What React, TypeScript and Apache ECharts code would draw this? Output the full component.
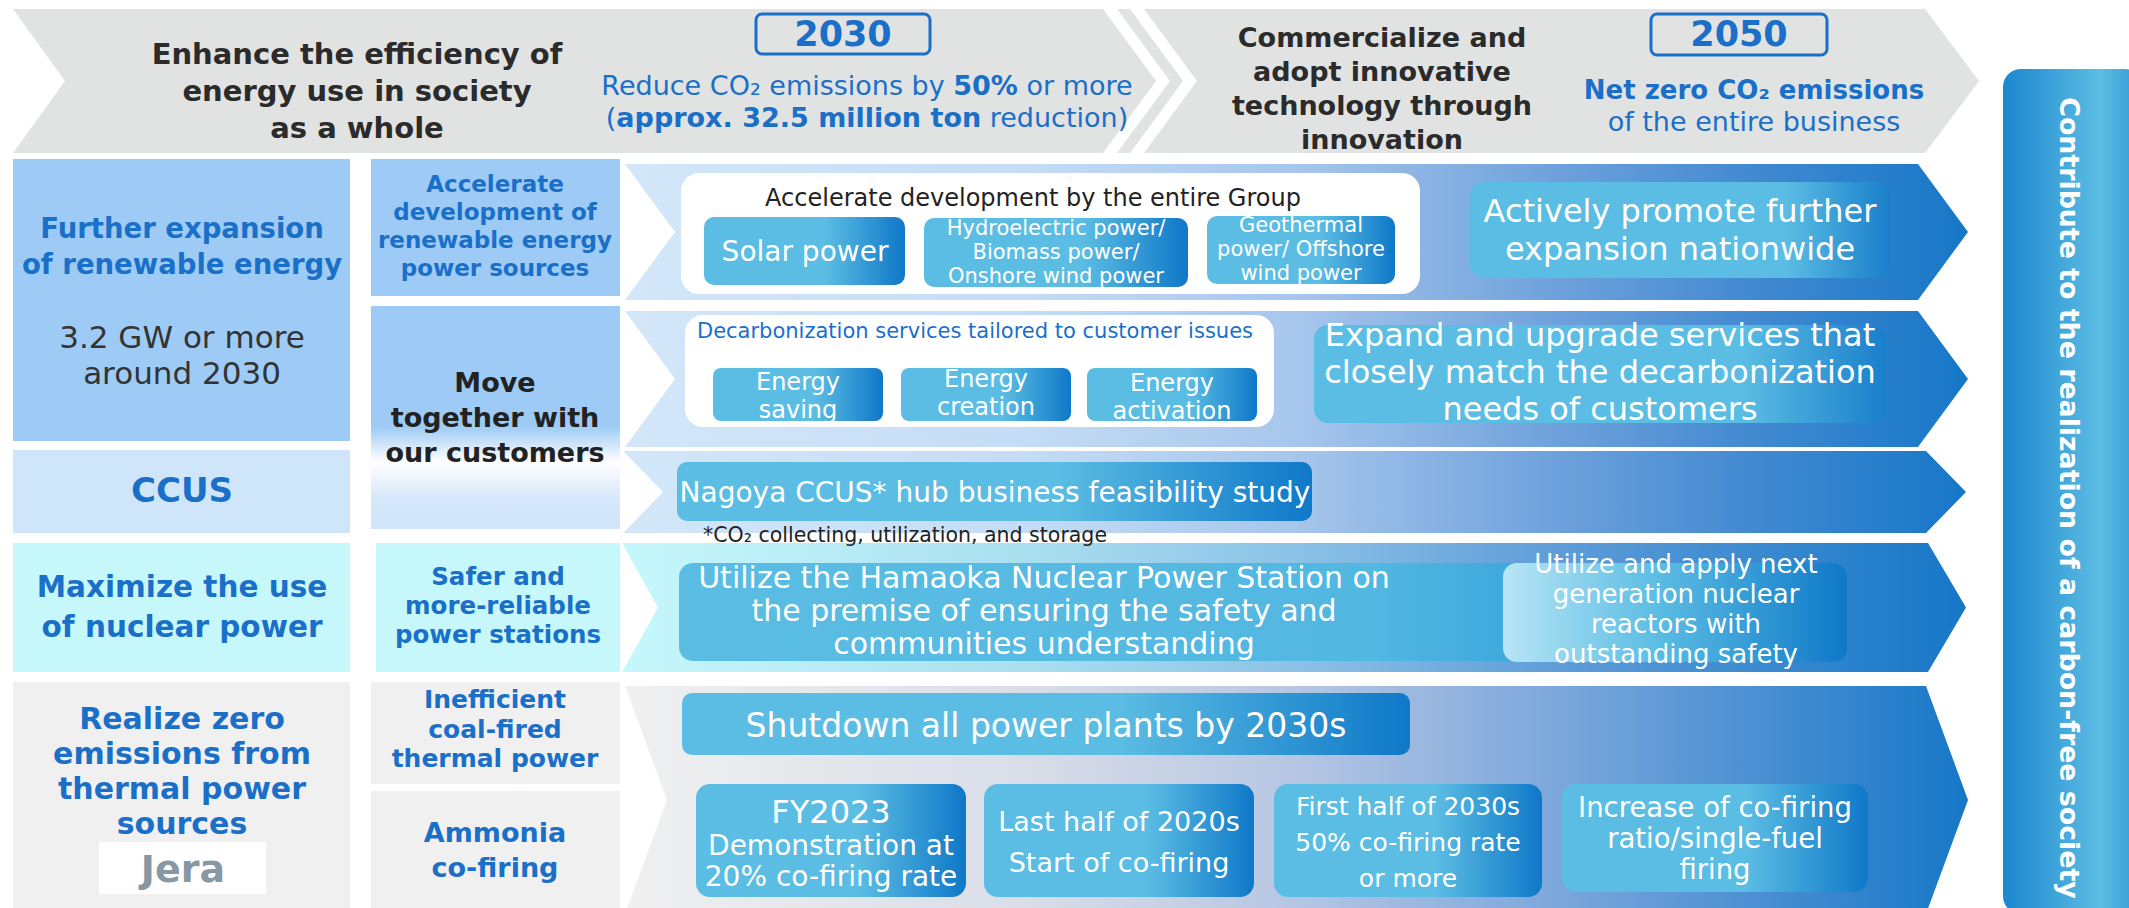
import React, { useEffect, useRef } from "react";
import * as echarts from "echarts";

const FONT = '"DejaVu Sans", Verdana, sans-serif';

// ---- texts (content) ----
const bannerLeftLines = ["Enhance the efficiency of", "energy use in society", "as a whole"];
const year2030 = "2030";
const target2030 = [
  [["n", "Reduce CO₂ emissions by "], ["b", "50%"], ["n", " or more"]],
  [["n", "("], ["b", "approx. 32.5 million ton"], ["n", " reduction)"]],
];
const bannerRightLines = ["Commercialize and", "adopt innovative", "technology through", "innovation"];
const year2050 = "2050";
const target2050Lines = ["Net zero CO₂ emissions", "of the entire business"];
const sideBarText = "Contribute to the realization of a carbon-free society";

const leftPolicies = [
  ["Further expansion", "of renewable energy"],
  ["CCUS"],
  ["Maximize the use", "of nuclear power"],
  ["Realize zero", "emissions from", "thermal power", "sources"],
];
const renewableTarget = ["3.2 GW or more", "around 2030"];
const measures = [
  ["Accelerate", "development of", "renewable energy", "power sources"],
  ["Move", "together with", "our customers"],
  ["Safer and", "more-reliable", "power stations"],
  ["Inefficient", "coal-fired", "thermal power"],
  ["Ammonia", "co-firing"],
];
const logoText = "Jera";

const groupTitle = "Accelerate development by the entire Group";
const groupItems = [["Solar power"], ["Hydroelectric power/", "Biomass power/", "Onshore wind power"], ["Geothermal", "power/ Offshore", "wind power"]];
const group2050 = ["Actively promote further", "expansion nationwide"];

const serviceTitle = "Decarbonization services tailored to customer issues";
const serviceItems = [["Energy", "saving"], ["Energy", "creation"], ["Energy", "activation"]];
const service2050 = ["Expand and upgrade services that", "closely match the decarbonization", "needs of customers"];

const ccusItem = "Nagoya CCUS* hub business feasibility study";
const ccusNote = "*CO₂ collecting, utilization, and storage";

const nuclearItem = ["Utilize the Hamaoka Nuclear Power Station on", "the premise of ensuring the safety and", "communities understanding"];
const nuclear2050 = ["Utilize and apply next", "generation nuclear", "reactors with", "outstanding safety"];

const coalItem = "Shutdown all power plants by 2030s";
const ammoniaSteps = [
  ["FY2023", "Demonstration at", "20% co-firing rate"],
  ["Last half of 2020s", "Start of co-firing"],
  ["First half of 2030s", "50% co-firing rate", "or more"],
  ["Increase of co-firing", "ratio/single-fuel", "firing"],
];

// ---- colours ----
const BLUE = "#1a6fc9";
const DARK = "#2b2b2b";
const SKY = "#5bbde3";

function hg(stops: [number, string][]) {
  return new echarts.graphic.LinearGradient(0, 0, 1, 0, stops.map(([offset, color]) => ({ offset, color })));
}
function vg(stops: [number, string][]) {
  return new echarts.graphic.LinearGradient(0, 0, 0, 1, stops.map(([offset, color]) => ({ offset, color })));
}

function T(x: number, y: number, lines: string[] | string, size: number, fill: string, o: any = {}) {
  const text = Array.isArray(lines) ? lines.join("\n") : lines;
  const el: any = {
    type: "text",
    x,
    y,
    silent: true,
    style: {
      text,
      fontSize: size,
      fontFamily: FONT,
      fontWeight: o.weight || "normal",
      fill,
      align: o.align || "center",
      verticalAlign: "middle",
      lineHeight: o.lh || Math.round(size * 1.2),
    },
  };
  if (o.rich) el.style.rich = o.rich;
  if (o.rot !== undefined) el.rotation = o.rot;
  return el;
}
function R(x: number, y: number, w: number, h: number, fill: any, r: any = 0, extra: any = {}) {
  return { type: "rect", silent: true, shape: { x, y, width: w, height: h, r }, style: { fill, ...extra } };
}
function P(points: number[][], fill: any) {
  return { type: "polygon", silent: true, shape: { points }, style: { fill } };
}
function arrow(l: number, notch: number, top: number, bot: number, tr: number, tip: number, fill: any) {
  const mid = (top + bot) / 2;
  return P([[l, top], [tr, top], [tip, mid], [tr, bot], [l, bot], [notch, mid]], fill);
}

const boxGrad = () => hg([[0, SKY], [0.6, SKY], [1, "#0f78c8"]]);
const bigBoxGrad = () => hg([[0, SKY], [0.75, SKY], [1, "#1a7fcb"]]);
const blueArrow = () => hg([[0, "#d3e7f9"], [0.3, "#c4dcf5"], [0.5, "#a7c6ec"], [0.7, "#6ca0db"], [0.85, "#3f88d0"], [1, "#1677c7"]]);

function buildElements() {
  const els: any[] = [];

  // ---- top banner ----
  els.push(P([[13, 9], [1925, 9], [1979, 81], [1925, 153], [13, 153], [65, 81]], "#e1e2e2"));
  els.push(P([[1103, 9], [1117, 9], [1170, 81], [1117, 153], [1103, 153], [1156, 81]], "#ffffff"));
  els.push(P([[1130, 9], [1144, 9], [1197, 81], [1144, 153], [1130, 153], [1183, 81]], "#ffffff"));
  els.push(T(357, 91, bannerLeftLines, 29, DARK, { lh: 37, weight: "bold" }));
  els.push(R(756, 14, 174, 40, "transparent", 6, { stroke: BLUE, lineWidth: 3 }));
  els.push(T(843, 34, year2030, 35, BLUE, { weight: "bold" }));
  const richText = target2030.map((line) => line.map(([k, s]) => `{${k}|${s}}`).join("")).join("\n");
  els.push(
    T(867, 101, richText, 27, BLUE, {
      lh: 32,
      rich: {
        n: { fontSize: 27, fontFamily: FONT, fill: BLUE, lineHeight: 32 },
        b: { fontSize: 27, fontFamily: FONT, fill: BLUE, fontWeight: "bold", lineHeight: 32 },
      },
    })
  );
  els.push(T(1382, 88, bannerRightLines, 27, DARK, { lh: 34, weight: "bold" }));
  els.push(R(1651, 14, 176, 41, "transparent", 6, { stroke: BLUE, lineWidth: 3 }));
  els.push(T(1739, 34, year2050, 35, BLUE, { weight: "bold" }));
  els.push(T(1754, 90, target2050Lines[0], 26, BLUE, { weight: "bold" }));
  els.push(T(1754, 121, target2050Lines[1], 27, BLUE));

  // ---- side bar ----
  els.push(R(2003, 69, 140, 845, hg([[0, "#1c86cf"], [0.7, "#5cbde3"], [1, "#2f95d3"]]), 18));
  els.push(T(2069, 498, sideBarText, 26.8, "#ffffff", { weight: "bold", rot: -Math.PI / 2 }));

  // ---- left columns ----
  els.push(R(13, 159, 337, 282, "#9dcbf5"));
  els.push(R(13, 450, 337, 83, "#cfe5fa"));
  els.push(R(13, 543, 337, 129, "#c6f8fb"));
  els.push(R(13, 682, 337, 240, "#f0f0f0"));
  els.push(R(371, 159, 249, 137, "#9dcbf5"));
  els.push(R(371, 306, 249, 223, vg([[0, "#9dcbf5"], [0.54, "#9dcbf5"], [0.7, "#ffffff"], [0.86, "#d6e8fa"], [1, "#cfe5fa"]])));
  els.push(R(376, 543, 244, 129, "#c6f8fb"));
  els.push(R(371, 682, 249, 102, "#f0f0f0"));
  els.push(R(371, 791, 249, 130, "#f0f0f0"));

  els.push(T(182, 246, leftPolicies[0], 27.5, BLUE, { lh: 36, weight: "bold" }));
  els.push(T(182, 355, renewableTarget, 31, "#333333", { lh: 36 }));
  els.push(T(182, 490, leftPolicies[1], 34, BLUE, { weight: "bold" }));
  els.push(T(182, 607, leftPolicies[2], 29.5, BLUE, { lh: 40, weight: "bold" }));
  els.push(T(182, 771, leftPolicies[3], 30, BLUE, { lh: 35, weight: "bold" }));
  els.push(R(99, 842, 167, 52, "#ffffff"));
  els.push(T(183, 869, logoText, 38, "#8797a3", { weight: "bold" }));

  els.push(T(495, 226, measures[0], 23, BLUE, { lh: 28, weight: "bold" }));
  els.push(T(495, 417, measures[1], 27, "#222222", { lh: 35, weight: "bold" }));
  els.push(T(498, 605, measures[2], 24.5, BLUE, { lh: 29, weight: "bold" }));
  els.push(T(495, 729, measures[3], 25, BLUE, { lh: 29.5, weight: "bold" }));
  els.push(T(495, 850, measures[4], 27, BLUE, { lh: 35, weight: "bold" }));

  // ---- arrows ----
  els.push(arrow(625, 675, 164, 300, 1918, 1968, blueArrow()));
  els.push(arrow(625, 675, 311, 447, 1918, 1968, blueArrow()));
  els.push(arrow(623, 663, 451, 533, 1926, 1966, blueArrow()));
  els.push(arrow(622, 658, 543, 672, 1928, 1966, hg([[0, "#c6f8fb"], [0.3, "#aadff0"], [0.5, "#8cc2e6"], [0.7, "#5d9cd8"], [1, "#1677c7"]])));
  els.push(arrow(625, 667, 686, 914, 1926, 1968, hg([[0, "#f0f0f0"], [0.3, "#d9dde8"], [0.5, "#b6c6e3"], [0.7, "#7aa6db"], [1, "#1677c7"]])));

  // ---- row 1 ----
  els.push(R(681, 173, 739, 121, "#ffffff", 18));
  els.push(T(1033, 198, groupTitle, 24, "#222222"));
  els.push(R(704, 217, 201, 68, boxGrad(), 10));
  els.push(T(805, 251, groupItems[0], 28, "#ffffff"));
  els.push(R(924, 218, 264, 69, boxGrad(), 10));
  els.push(T(1056, 252, groupItems[1], 21, "#ffffff", { lh: 24 }));
  els.push(R(1207, 216, 188, 68, boxGrad(), 10));
  els.push(T(1301, 249, groupItems[2], 21, "#ffffff", { lh: 24 }));
  els.push(R(1470, 182, 420, 96, bigBoxGrad(), 14));
  els.push(T(1680, 230, group2050, 32, "#ffffff", { lh: 37.5 }));

  // ---- row 2 ----
  els.push(R(685, 315, 589, 112, "#ffffff", 18));
  els.push(T(975, 331, serviceTitle, 21, BLUE));
  const sx = [713, 901, 1087];
  const sy = [396, 393, 397];
  serviceItems.forEach((it, i) => {
    els.push(R(sx[i], 368, 170, 53, boxGrad(), 8));
    els.push(T(sx[i] + 85, sy[i], it, 24, "#ffffff", { lh: 28 }));
  });
  els.push(R(1314, 325, 572, 98, bigBoxGrad(), 14));
  els.push(T(1600, 372, service2050, 32, "#ffffff", { lh: 37 }));

  // ---- row 3 ----
  els.push(R(677, 462, 635, 59, boxGrad(), 10));
  els.push(T(995, 492, ccusItem, 28, "#ffffff"));
  els.push(T(703, 535, ccusNote, 20.5, "#222222", { align: "left" }));

  // ---- row 4 ----
  els.push(R(679, 563, 870, 98, hg([[0, SKY], [0.8, "#52b7e1"], [1, "#3aa5dc"]]), 14));
  els.push(T(1044, 610, nuclearItem, 30, "#ffffff", { lh: 33 }));
  els.push(R(1503, 563, 344, 99, hg([[0, "#b8e5f6"], [0.45, SKY], [1, "#0e78c8"]]), 14));
  els.push(T(1676, 609, nuclear2050, 26, "#ffffff", { lh: 30 }));

  // ---- row 5 ----
  els.push(R(682, 693, 728, 62, boxGrad(), 10));
  els.push(T(1046, 725, coalItem, 33, "#ffffff"));
  els.push(R(696, 784, 270, 113, boxGrad(), 14));
  els.push(T(831, 812, ammoniaSteps[0][0], 32, "#ffffff"));
  els.push(T(831, 861, ammoniaSteps[0].slice(1), 28, "#ffffff", { lh: 31 }));
  els.push(R(984, 784, 270, 113, boxGrad(), 14));
  els.push(T(1119, 842, ammoniaSteps[1], 27, "#ffffff", { lh: 41 }));
  els.push(R(1274, 784, 268, 113, boxGrad(), 14));
  els.push(T(1408, 842, ammoniaSteps[2], 25, "#ffffff", { lh: 36 }));
  els.push(R(1562, 784, 306, 108, boxGrad(), 14));
  els.push(T(1715, 838, ammoniaSteps[3], 27.5, "#ffffff", { lh: 31 }));

  return els;
}

export default function App() {
  const ref = useRef<HTMLDivElement>(null);
  useEffect(() => {
    if (!ref.current) return;
    const chart = echarts.init(ref.current, undefined, { renderer: "svg" });
    chart.setOption({
      animation: false,
      backgroundColor: "#ffffff",
      graphic: { elements: buildElements() },
    });
    return () => chart.dispose();
  }, []);
  return <div ref={ref} style={{ position: "absolute", left: 0, top: 0, width: 2129, height: 908 }} />;
}
